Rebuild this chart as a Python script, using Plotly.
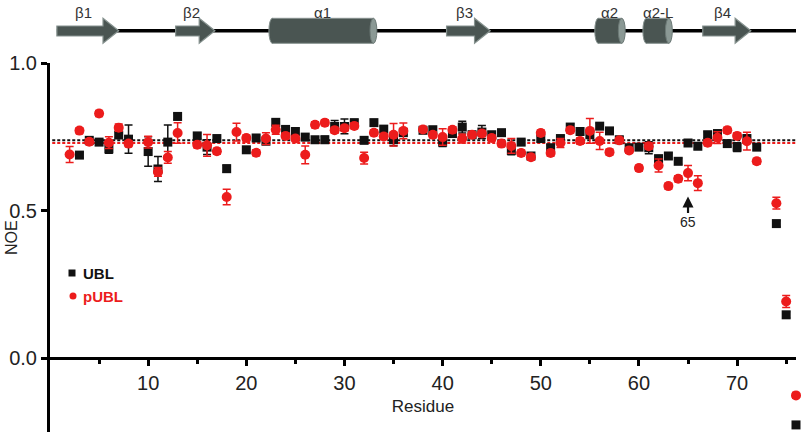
import plotly.graph_objects as go

# heteronuclear NOE per residue
residues = list(range(2, 77))
ubl_noe = [None, 0.688, 0.738, 0.732, 0.709, 0.756, 0.742, None, 0.700, 0.641,
           0.732, 0.819, None, 0.753, 0.715, 0.744, 0.642, None, 0.706, 0.746,
           0.735, 0.799, 0.775, 0.768, 0.749, 0.740, 0.740, 0.785, 0.785, 0.798,
           0.738, 0.798, 0.776, 0.740, 0.764, None, 0.772, 0.774, 0.732, 0.761,
           0.783, 0.757, 0.766, 0.757, 0.764, 0.704, 0.732, 0.685, 0.744, 0.713,
           0.744, 0.783, 0.768, 0.757, 0.786, 0.770, 0.740, 0.713, 0.715, 0.713,
           0.676, 0.685, 0.667, 0.729, 0.718, 0.757, 0.761, 0.727, 0.715, 0.744,
           0.715, None, 0.456, 0.147, -0.226]
ubl_err = [0.01, 0.01, 0.01, 0.01, 0.015, 0.01, 0.048, 0.0, 0.05, 0.042,
           0.058, 0.01, 0.0, 0.01, 0.025, 0.01, 0.012, 0.0, 0.01, 0.01,
           0.01, 0.01, 0.01, 0.01, 0.01, 0.01, 0.012, 0.02, 0.025, 0.01,
           0.01, 0.01, 0.01, 0.02, 0.01, 0.0, 0.01, 0.01, 0.015, 0.01,
           0.02, 0.01, 0.022, 0.01, 0.01, 0.015, 0.01, 0.01, 0.01, 0.01,
           0.01, 0.01, 0.01, 0.01, 0.01, 0.01, 0.01, 0.01, 0.01, 0.02,
           0.01, 0.01, 0.01, 0.01, 0.01, 0.01, 0.01, 0.01, 0.015, 0.012,
           0.01, 0.0, 0.01, 0.01, 0.01]
publ_noe = [0.690, 0.771, 0.733, 0.829, 0.730, 0.781, 0.727, None, 0.732, 0.631,
            0.680, 0.763, None, 0.723, 0.721, 0.701, 0.546, 0.766, 0.746, 0.696,
            0.744, 0.774, 0.753, 0.744, 0.689, 0.791, 0.798, 0.772, 0.779, 0.787,
            0.678, 0.764, 0.751, 0.757, 0.770, None, 0.775, 0.757, 0.749, 0.774,
            0.744, 0.757, 0.761, 0.746, 0.727, 0.719, 0.695, 0.681, 0.763, 0.695,
            0.729, 0.772, 0.736, 0.770, 0.736, 0.698, 0.738, 0.704, 0.644, 0.718,
            0.653, 0.583, 0.608, 0.627, 0.593, 0.730, 0.747, 0.772, 0.753, 0.735,
            0.667, None, 0.525, 0.192, -0.126]
publ_err = [0.027, 0.01, 0.01, 0.01, 0.02, 0.012, 0.01, 0.0, 0.02, 0.015,
            0.02, 0.035, 0.0, 0.01, 0.037, 0.01, 0.026, 0.03, 0.01, 0.01,
            0.02, 0.015, 0.01, 0.01, 0.03, 0.01, 0.01, 0.01, 0.01, 0.01,
            0.02, 0.01, 0.01, 0.038, 0.027, 0.0, 0.01, 0.01, 0.028, 0.01,
            0.015, 0.01, 0.01, 0.01, 0.01, 0.025, 0.01, 0.01, 0.01, 0.01,
            0.015, 0.01, 0.01, 0.042, 0.029, 0.01, 0.01, 0.01, 0.01, 0.01,
            0.022, 0.01, 0.01, 0.026, 0.025, 0.01, 0.02, 0.01, 0.01, 0.03,
            0.01, 0.0, 0.02, 0.02, 0.01]
ubl_mean = 0.738
publ_mean = 0.729

# secondary structure (residue numbers)
strand_labels = ["β1", "β2", "β3", "β4"]
strand_start = [0.7, 12.8, 40.4, 66.5]
strand_end = [7.0, 16.8, 44.85, 71.4]
helix_labels = ["α1", "α2", "α2-L"]
helix_start = [22.3, 55.5, 60.4]
helix_end = [33.3, 58.6, 63.4]

RED = "#ec1c1c"
FONT = "Arial, Liberation Sans, sans-serif"
W, H, TOP, LEFT, RIGHT = 802, 432, 63, 50, 6
PLOT_H = H - TOP
PLOT_W = W - LEFT - RIGHT


def py(px):
    # pixel row -> paper y
    return (H - px) / PLOT_H


def pxx(px):
    # pixel column -> paper x
    return (px - LEFT) / PLOT_W


fig = go.Figure()
fig.add_trace(go.Scatter(
    x=residues, y=ubl_noe, mode="markers", name="UBL", cliponaxis=False,
    marker=dict(symbol="square", size=9, color="#111111"),
    error_y=dict(type="data", array=ubl_err, color="#111111", thickness=1.5, width=4)))
fig.add_trace(go.Scatter(
    x=residues, y=publ_noe, mode="markers", name="pUBL", cliponaxis=False,
    marker=dict(symbol="circle", size=10, color=RED),
    error_y=dict(type="data", array=publ_err, color=RED, thickness=1.5, width=4)))

shapes = []
for val, col in ((ubl_mean, "#111111"), (publ_mean, RED)):
    shapes.append(dict(type="line", xref="paper", yref="y", x0=0.003, x1=1.0,
                       y0=val, y1=val, layer="below",
                       line=dict(color=col, width=2, dash="3px,2px")))

# secondary structure strip
y_line = py(30.7)
body_hi, body_lo = py(26), py(36)
head_hi, head_lo = py(18.3), py(43.3)
shapes.append(dict(type="line", xref="x", yref="paper", x0=0.7, x1=76.1,
                   y0=y_line, y1=y_line, line=dict(color="black", width=3.5)))
head = 1.6
for s, e in zip(strand_start, strand_end):
    h = e - head
    path = (f"M {s},{body_lo} L {h},{body_lo} L {h},{head_lo} L {e},{y_line} "
            f"L {h},{head_hi} L {h},{body_hi} L {s},{body_hi} Z")
    shapes.append(dict(type="path", xref="x", yref="paper", path=path,
                       fillcolor="#4a5552", line=dict(color="#86928f", width=1.2)))
cap = 0.7
for s, e in zip(helix_start, helix_end):
    shapes.append(dict(type="circle", xref="x", yref="paper", x0=s, x1=s + cap,
                       y0=head_lo, y1=head_hi, fillcolor="#4a5552",
                       line=dict(color="#86928f", width=1)))
    shapes.append(dict(type="rect", xref="x", yref="paper", x0=s + cap / 2, x1=e - cap / 2,
                       y0=head_lo, y1=head_hi, fillcolor="#4a5552",
                       line=dict(width=0)))
    shapes.append(dict(type="line", xref="x", yref="paper", x0=s + cap / 2, x1=e - cap / 2,
                       y0=head_hi, y1=head_hi, line=dict(color="#86928f", width=1)))
    shapes.append(dict(type="line", xref="x", yref="paper", x0=s + cap / 2, x1=e - cap / 2,
                       y0=head_lo, y1=head_lo, line=dict(color="#86928f", width=1)))
    shapes.append(dict(type="circle", xref="x", yref="paper", x0=e - cap, x1=e,
                       y0=head_lo, y1=head_hi, fillcolor="#8b9995",
                       line=dict(color="#6d7a77", width=1)))

# legend markers
shapes.append(dict(type="rect", xref="paper", yref="paper", xsizemode="pixel",
                   ysizemode="pixel", xanchor=pxx(72), yanchor=py(273),
                   x0=-3.5, x1=3.5, y0=-3.5, y1=3.5, fillcolor="#111111", line=dict(width=0)))
shapes.append(dict(type="circle", xref="paper", yref="paper", xsizemode="pixel",
                   ysizemode="pixel", xanchor=pxx(73), yanchor=py(296),
                   x0=-3.5, x1=3.5, y0=-3.5, y1=3.5, fillcolor=RED, line=dict(width=0)))

annotations = []
for lab, s, e in zip(strand_labels, strand_start, strand_end):
    annotations.append(dict(text=lab, x=(s + e) / 2 - 0.4, y=py(12), xref="x", yref="paper",
                            xanchor="center", yanchor="middle", showarrow=False,
                            font=dict(size=15, color="#333333")))
for lab, s, e in zip(helix_labels, helix_start, helix_end):
    annotations.append(dict(text=lab, x=(s + e) / 2, y=py(12), xref="x", yref="paper",
                            xanchor="center", yanchor="middle", showarrow=False,
                            font=dict(size=15, color="#333333")))
annotations.append(dict(text="NOE", x=pxx(11), y=py(238), xref="paper", yref="paper",
                        xanchor="center", yanchor="middle", textangle=-90,
                        showarrow=False, font=dict(size=16, color="#222222")))
annotations.append(dict(text="<b>UBL</b>", x=pxx(81), y=py(273), xref="paper", yref="paper",
                        xanchor="left", yanchor="middle", showarrow=False,
                        font=dict(size=15, color="#111111")))
annotations.append(dict(text="<b>pUBL</b>", x=pxx(81), y=py(296), xref="paper", yref="paper",
                        xanchor="left", yanchor="middle", showarrow=False,
                        font=dict(size=15, color=RED)))
annotations.append(dict(text="65", x=65, y=0.548, xref="x", yref="y", ax=0, ay=26,
                        showarrow=True, arrowhead=2, arrowsize=1, arrowwidth=2.2,
                        arrowcolor="#111111", font=dict(size=14, color="#222222")))

fig.update_layout(
    width=W, height=H, margin=dict(l=LEFT, r=RIGHT, t=TOP, b=0),
    plot_bgcolor="white", paper_bgcolor="white", showlegend=False,
    font=dict(family=FONT, color="#222222"),
    shapes=shapes, annotations=annotations,
    xaxis=dict(range=[0, 76], anchor="free", position=0.2, showgrid=False, zeroline=False,
               showline=True, linewidth=3, linecolor="black",
               ticks="outside", ticklen=6, tickwidth=2.5, tickcolor="black",
               tickvals=[10, 20, 30, 40, 50, 60, 70], tickfont=dict(size=20),
               minor=dict(ticks="outside", tickvals=[5, 15, 25, 35, 45, 55, 65, 75],
                          ticklen=4, tickwidth=2.5, tickcolor="black"),
               title=dict(text="Residue", font=dict(size=17), standoff=6)),
    yaxis=dict(range=[-0.25, 1.0], showgrid=False, zeroline=False,
               showline=True, linewidth=3, linecolor="black",
               ticks="outside", ticklen=6, tickwidth=3, tickcolor="black",
               tickvals=[0, 0.5, 1.0], ticktext=["0.0", "0.5", "1.0"],
               tickfont=dict(size=20)),
)

# drop the page's default body margin so the figure sits at the window corner
fig.write_html("out.html", config={"displayModeBar": False},
               post_script="document.body.style.margin='0px';")
